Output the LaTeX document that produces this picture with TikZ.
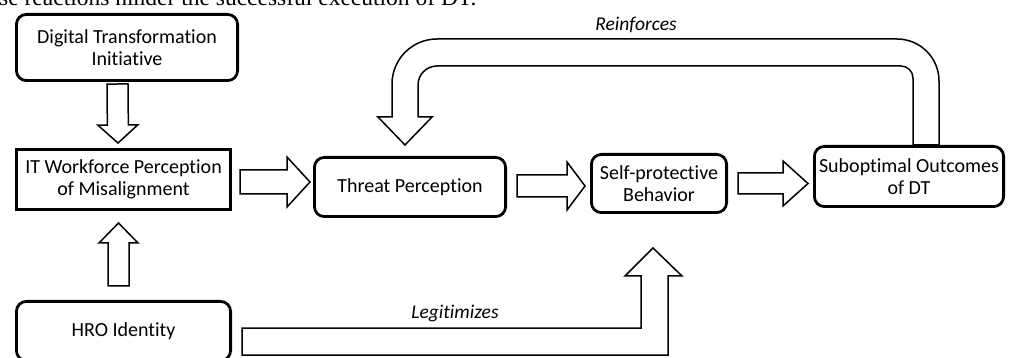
\documentclass[tikz,border=0pt]{standalone}
\usepackage{fontspec}
\setmainfont{Carlito}[RawFeature=-liga]
\newfontfamily\bodyserif{Liberation Serif}
\usetikzlibrary{calc}
\newcommand\blockarrow[5]{% #1 from, #2 to, #3 half shaft, #4 half head, #5 head length
  \coordinate (ba-h) at ($(#2)!#5pt!(#1)$);
  \draw[barrow] ($(#1)!#3pt!90:(#2)$) -- ($(ba-h)!#3pt!-90:(#1)$) -- ($(ba-h)!#4pt!-90:(#1)$) -- (#2)
    -- ($(ba-h)!#4pt!90:(#1)$) -- ($(ba-h)!#3pt!90:(#1)$) -- ($(#1)!#3pt!-90:(#2)$) -- cycle;}
\begin{document}
\begin{tikzpicture}[x=1pt,y=-1pt,
  box/.style={draw, line width=2.8pt, rounded corners=10pt, align=center,
    font=\fontsize{20}{22}\selectfont, inner sep=0pt},
  sqbox/.style={box, sharp corners},
  barrow/.style={draw, line width=1.5pt, fill=white, line join=miter},
  lbl/.style={font=\fontsize{19.5}{22}\selectfont\itshape, inner sep=0pt}]
\useasboundingbox (0,0) rectangle (1010,358);
\clip (0,0) rectangle (1010,358);

\node[anchor=base west, font=\bodyserif\fontsize{23.5}{24}\selectfont, inner sep=0pt] (hdr) at (-1,6)
  {se reactions hinder the successful execution of DT.};

\node[box, minimum width=221.2pt, minimum height=66.2pt] (dti) at (127,47.5) {Digital Transformation\\Initiative};
\node[sqbox, minimum width=214.2pt, minimum height=60.2pt] (it) at (123.5,179.5) {IT Workforce Perception\\of Misalignment};
\node[box, minimum width=214.2pt, minimum height=59.2pt] (hro) at (123.5,331) {HRO Identity};
\node[box, minimum width=191.2pt, minimum height=59.2pt] (tp) at (410,187) {Threat Perception};
\node[box, minimum width=135.2pt, minimum height=58.2pt] (sp) at (659,183.5) {Self-protective\\Behavior};
\node[box, minimum width=189.2pt, minimum height=60.2pt] (so) at (909,176.5) {Suboptimal Outcomes\\of DT};

% straight block arrows
\coordinate (a1s) at ($(dti.south)+(-9.5,2)$);
\coordinate (a1e) at ($(it.north)+(-5.5,-5)$);
\blockarrow{a1s}{a1e}{10.5}{20}{18}
\coordinate (a2s) at ($(hro.north)+(-5,-14)$);
\coordinate (a2e) at ($(it.south)+(-5,12)$);
\blockarrow{a2s}{a2e}{10.5}{19.5}{20}
\coordinate (a3s) at ($(it.east)+(8,2.5)$);
\coordinate (a3e) at ($(tp.west)+(-3,-5)$);
\blockarrow{a3s}{a3e}{12}{25}{23}
\coordinate (a4s) at ($(tp.east)+(10,-1)$);
\coordinate (a4e) at ($(sp.west)+(-5,2.5)$);
\blockarrow{a4s}{a4e}{11}{24}{18}
\coordinate (a5s) at ($(sp.east)+(10,0)$);
\coordinate (a5e) at ($(so.west)+(-5,7)$);
\blockarrow{a5s}{a5e}{10.5}{22.5}{25}

% Reinforces loop arrow (from Suboptimal Outcomes back to Threat Perception)
\draw[barrow] (939,145) -- (939,81) arc[start angle=0, end angle=-90, radius=42]
  -- (437,39) arc[start angle=-90, end angle=-180, radius=45]
  -- (392,117) -- (378,117) -- (405,145) -- (432,117) -- (418,117)
  -- (418,85) arc[start angle=180, end angle=270, radius=19]
  -- (901,66) arc[start angle=-90, end angle=0, radius=12]
  -- (913,145) -- cycle;
\node[lbl] (rein) at (636,25) {Reinforces};

% Legitimizes arrow (from HRO Identity to Self-protective Behavior)
\draw[barrow] (242,328) -- (641,328) -- (641,276) -- (625,276) -- (653,248)
  -- (682,276) -- (668,276) -- (668,355) -- (242,355) -- cycle;
\node[lbl] (legit) at (455,313) {Legitimizes};
\end{tikzpicture}
\end{document}
